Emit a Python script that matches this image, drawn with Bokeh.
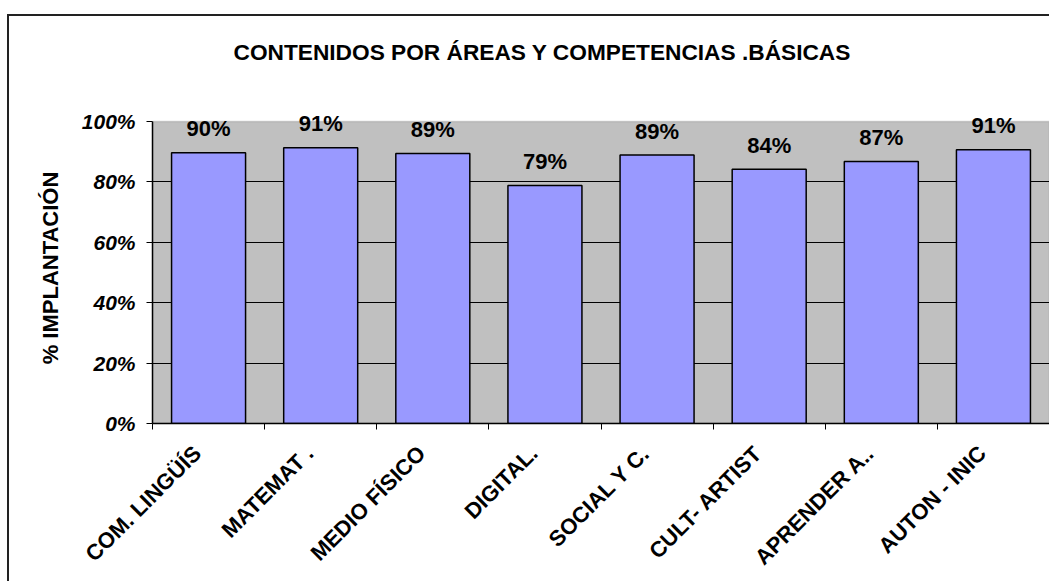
import math
from bokeh.plotting import figure
from bokeh.models import (Range1d, FixedTicker, NumeralTickFormatter, Title,
                          LabelSet, ColumnDataSource, BoxAnnotation)
from bokeh.core.properties import value
from bokeh.embed import file_html
from bokeh.resources import INLINE

# ---- data ----
categories = ["COM. LINGÜÍS", "MATEMAT .", "MEDIO FÍSICO", "DIGITAL.",
              "SOCIAL Y C.", "CULT- ARTIST", "APRENDER A..", "AUTON - INIC"]
values = [0.897, 0.913, 0.894, 0.788, 0.889, 0.842, 0.868, 0.907]
value_labels = ["90%", "91%", "89%", "79%", "89%", "84%", "87%", "91%"]
y_ticks = [0.0, 0.2, 0.4, 0.6, 0.8, 1.0]
title_text = "CONTENIDOS POR ÁREAS  Y COMPETENCIAS .BÁSICAS"
y_title = "% IMPLANTACIÓN"

FONT = "Liberation Sans"
HEADROOM = 1.03   # room above 100% so value labels are not clipped

xs = [i + 0.5 for i in range(len(categories))]
label_pos = [x - 0.1 for x in xs]
src = ColumnDataSource(dict(x=xs, top=values, label=value_labels))

p = figure(width=1042, height=567, output_backend="svg", toolbar_location=None,
           x_range=Range1d(0, len(categories)), y_range=Range1d(0, HEADROOM),
           min_border_left=143, min_border_right=2, min_border_top=96,
           min_border_bottom=160, title=None)
p.styles = {"margin-top": "14px", "margin-left": "7px",
            "border-top": "2px solid #222222",
            "border-left": "2px solid #222222"}

p.background_fill_color = "white"
p.border_fill_color = "white"
p.outline_line_color = None

# plot area (0..100%)
p.add_layout(BoxAnnotation(bottom=0, top=1, fill_color="#C0C0C0", fill_alpha=1,
                           line_color="#808080", line_width=1.5, level="image"))

# grid
p.xgrid.grid_line_color = None
p.ygrid.ticker = FixedTicker(ticks=y_ticks[:-1])
p.ygrid.grid_line_color = "black"
p.ygrid.grid_line_width = 1

# bars
p.vbar(x="x", top="top", bottom=0, width=0.66, source=src,
       fill_color="#9999FF", line_color="black", line_width=1.5)

# value labels
p.add_layout(LabelSet(x="x", y="top", text="label", source=src, y_offset=24,
                      text_align="center", text_baseline="middle",
                      text_font=value(FONT), text_font_style="bold",
                      text_font_size="22px", text_color="black"))

# x axis
xa = p.xaxis[0]
xa.ticker = FixedTicker(ticks=label_pos,
                        minor_ticks=list(range(len(categories) + 1)))
xa.major_label_overrides = {x: c for x, c in zip(label_pos, categories)}
xa.major_label_orientation = math.pi / 4
xa.major_tick_in = 0
xa.major_tick_out = 0
xa.minor_tick_in = 0
xa.minor_tick_out = 6
xa.minor_tick_line_color = "black"
xa.axis_line_color = "black"
xa.axis_line_width = 1.5
xa.major_label_text_font = FONT
xa.major_label_text_font_style = "bold"
xa.major_label_text_font_size = "22px"
xa.major_label_text_color = "black"
xa.major_label_standoff = 20

# y axis
ya = p.yaxis[0]
ya.bounds = (0, 1)
ya.ticker = FixedTicker(ticks=y_ticks)
ya.formatter = NumeralTickFormatter(format="0%")
ya.major_tick_in = 0
ya.major_tick_out = 6
ya.minor_tick_out = 0
ya.minor_tick_in = 0
ya.major_tick_line_color = "black"
ya.axis_line_color = "black"
ya.axis_line_width = 1.5
ya.major_label_text_font = FONT
ya.major_label_text_font_style = "bold italic"
ya.major_label_text_font_size = "21px"
ya.major_label_text_color = "black"
ya.major_label_standoff = 11
ya.axis_label = y_title
ya.axis_label_text_font = FONT
ya.axis_label_text_font_style = "bold"
ya.axis_label_text_font_size = "22px"
ya.axis_label_text_color = "black"
ya.axis_label_standoff = 16

# chart title (spacer nearest the frame, then the title itself)
p.add_layout(Title(text=" ", standoff=26, text_font_size="2px"), "above")
p.add_layout(Title(text=title_text, align="left", offset=81, standoff=36,
                   text_font=FONT, text_font_style="bold",
                   text_font_size="22.7px", text_color="black"), "above")

open("out.html", "w").write(file_html(p, INLINE))
